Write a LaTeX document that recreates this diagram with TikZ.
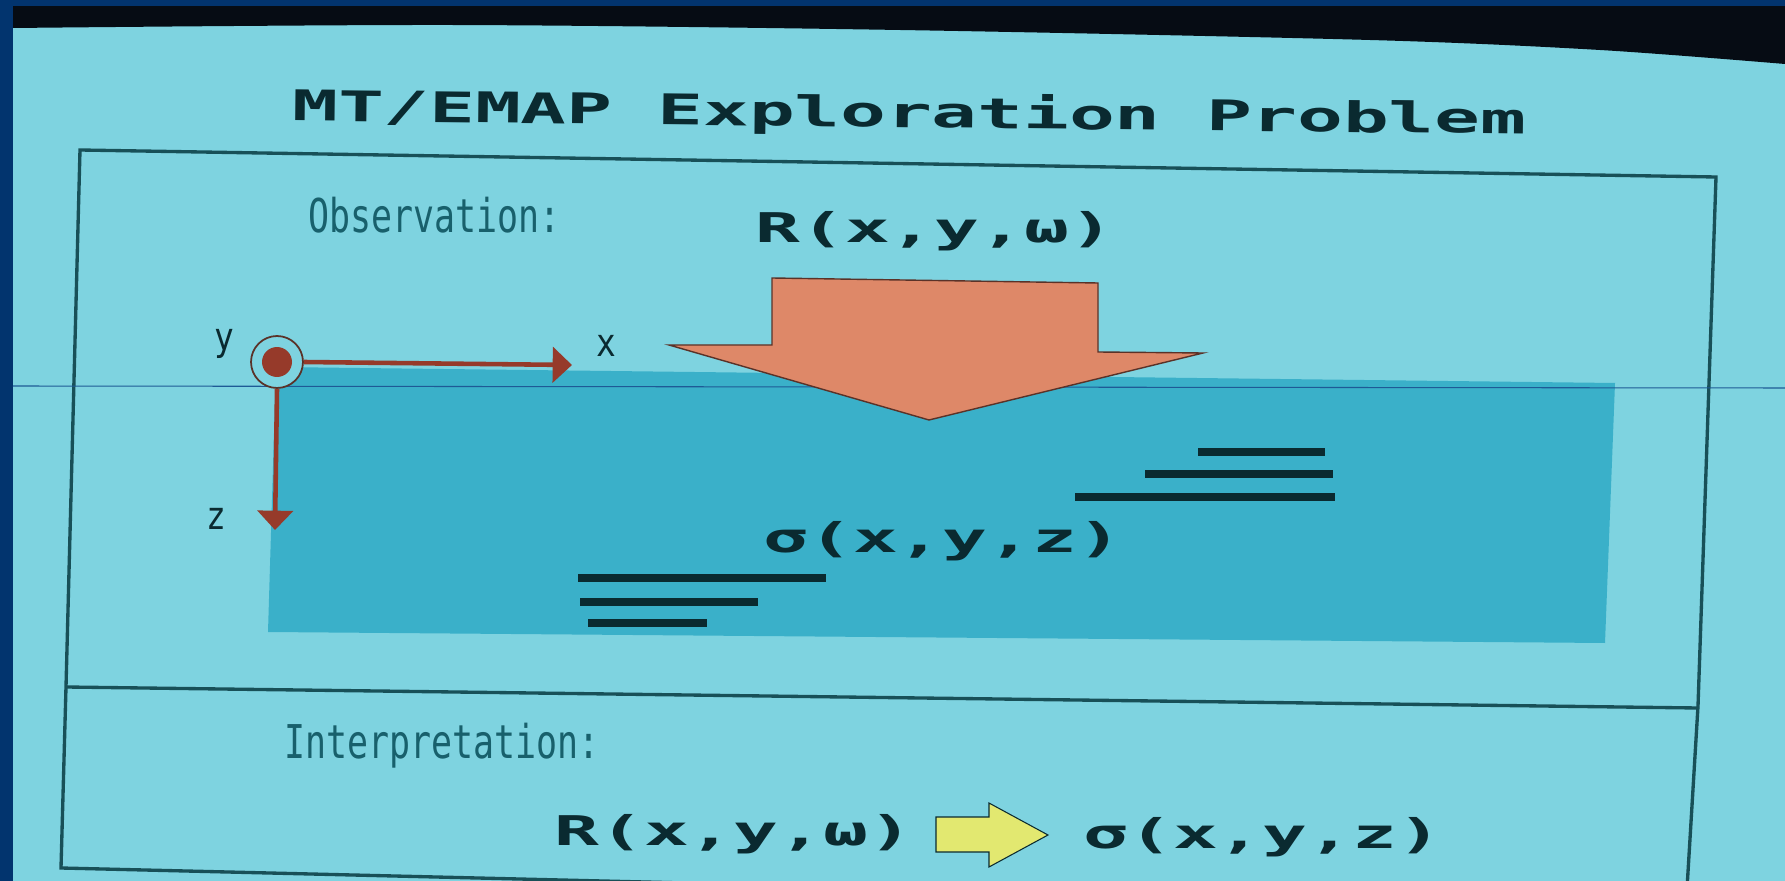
\documentclass[tikz,border=0pt]{standalone}
\usepackage{fontspec}
\usetikzlibrary{arrows.meta}
\newfontfamily\boldmono[FakeStretch=1.82]{DejaVu Sans Mono Bold}
\newfontfamily\titlemono[FakeStretch=1.80]{DejaVu Sans Mono Bold}
\newfontfamily\thinmono[FakeStretch=0.75]{DejaVu Sans Mono}
\newfontfamily\labelmono[FakeStretch=0.85]{DejaVu Sans Mono}
\definecolor{screen}{RGB}{126,211,224}
\definecolor{earthfill}{RGB}{58,176,201}
\definecolor{navyband}{RGB}{2,52,110}
\definecolor{crt}{RGB}{6,12,20}
\definecolor{framec}{RGB}{24,80,88}
\definecolor{inkdark}{RGB}{10,42,48}
\definecolor{inklight}{RGB}{24,96,108}
\definecolor{axisred}{RGB}{150,58,42}
\definecolor{orangefill}{RGB}{222,136,104}
\definecolor{orangeline}{RGB}{90,50,40}
\definecolor{yellowfill}{RGB}{226,232,112}
\definecolor{scanline}{RGB}{30,90,150}
\tikzset{
  boldtxt/.style={inner sep=0pt, anchor=base west, text=inkdark, font=\boldmono\fontsize{23.3}{28}\selectfont},
  titletxt/.style={inner sep=0pt, anchor=base west, text=inkdark, font=\titlemono\fontsize{24}{28}\selectfont},
  thintxt/.style={inner sep=0pt, anchor=base west, text=inklight, font=\thinmono\fontsize{26.5}{30}\selectfont},
  axlabel/.style={inner sep=0pt, text=inkdark, font=\labelmono\fontsize{22}{26}\selectfont},
  framepen/.style={draw=framec, line width=1.9pt},
  strata/.style={draw=inkdark, line width=4pt},
  axispen/.style={draw=axisred, line width=2.6pt, -{Triangle[length=11pt,width=20pt]}},
}
\begin{document}
\begin{tikzpicture}[x=0.02cm, y=-0.02cm]
\useasboundingbox (0,0) rectangle (1785,881);
\clip (0,0) rectangle (1785,881);
% screen and surroundings
\fill[screen] (0,0) rectangle (1785,881);
\fill[crt] (0,0) -- (1785,0) -- (1785,64)
  -- plot[smooth] coordinates {(1785,64) (1600,50) (1370,40) (900,30) (450,25) (13,28)}
  -- (0,28) -- cycle;
\fill[navyband] (0,0) rectangle (1785,6);
\fill[navyband] (0,0) rectangle (13,881);
% frame
\draw[framepen] (1686,905) -- (1698,706) -- (1716,177) -- (80,150) -- (66,687) -- (61,868) -- (1686,907);
\draw[framepen] (66,687) -- (1698,708);
% earth block
\fill[earthfill] (276,367) -- (1615,383) -- (1605,643) -- (268,632) -- cycle;
% strata
\draw[strata] (1198,452) -- (1325,452);
\draw[strata] (1145,474) -- (1333,474);
\draw[strata] (1075,497) -- (1335,497);
\draw[strata] (578,578) -- (826,578);
\draw[strata] (580,602) -- (758,602);
\draw[strata] (588,623) -- (707,623);
% scan artefact
\draw[scanline, line width=0.6pt] (13,386) -- (1785,388);
% big orange arrow
\filldraw[fill=orangefill, draw=orangeline, line width=0.8pt]
  (772,278) -- (1098,283) -- (1098,352) -- (1203,353) -- (929,420) -- (669,345) -- (772,345) -- cycle;
% axes
\node[circle, draw=orangeline, line width=1pt, fill=screen, minimum size=1.04cm, inner sep=0pt] (origin) at (277,362) {};
\node[circle, fill=axisred, minimum size=0.6cm, inner sep=0pt] (dot) at (origin) {};
\coordinate (xend) at (572,365);
\coordinate (zend) at (275,530);
\draw[axispen] (origin.east) -- (xend);
\draw[axispen] (origin.south) -- (zend);
\node[axlabel] (ylab) at (224,344) {y};
\node[axlabel] (xlab) at (606,346) {x};
\node[axlabel] (zlab) at (216,519) {z};
% texts
\node[titletxt, rotate=-0.6] (title) at (292,121) {MT/EMAP Exploration Problem};
\node[thintxt] (obs) at (308,233) {Observation:};
\node[boldtxt] (rtop) at (755,243) {R(x,y,ω)};
\node[boldtxt] (smid) at (763,553) {σ(x,y,z)};
\node[thintxt] (interp) at (284,758) {Interpretation:};
\node[boldtxt] (rbot) at (554,845) {R(x,y,ω)};
\node[boldtxt] (sbot) at (1083,848) {σ(x,y,z)};
% yellow arrow
\filldraw[fill=yellowfill, draw=inkdark, line width=0.6pt]
  (936,817) -- (989,817) -- (989,803) -- (1048,835) -- (989,867) -- (989,852) -- (936,852) -- cycle;
\end{tikzpicture}
\end{document}
